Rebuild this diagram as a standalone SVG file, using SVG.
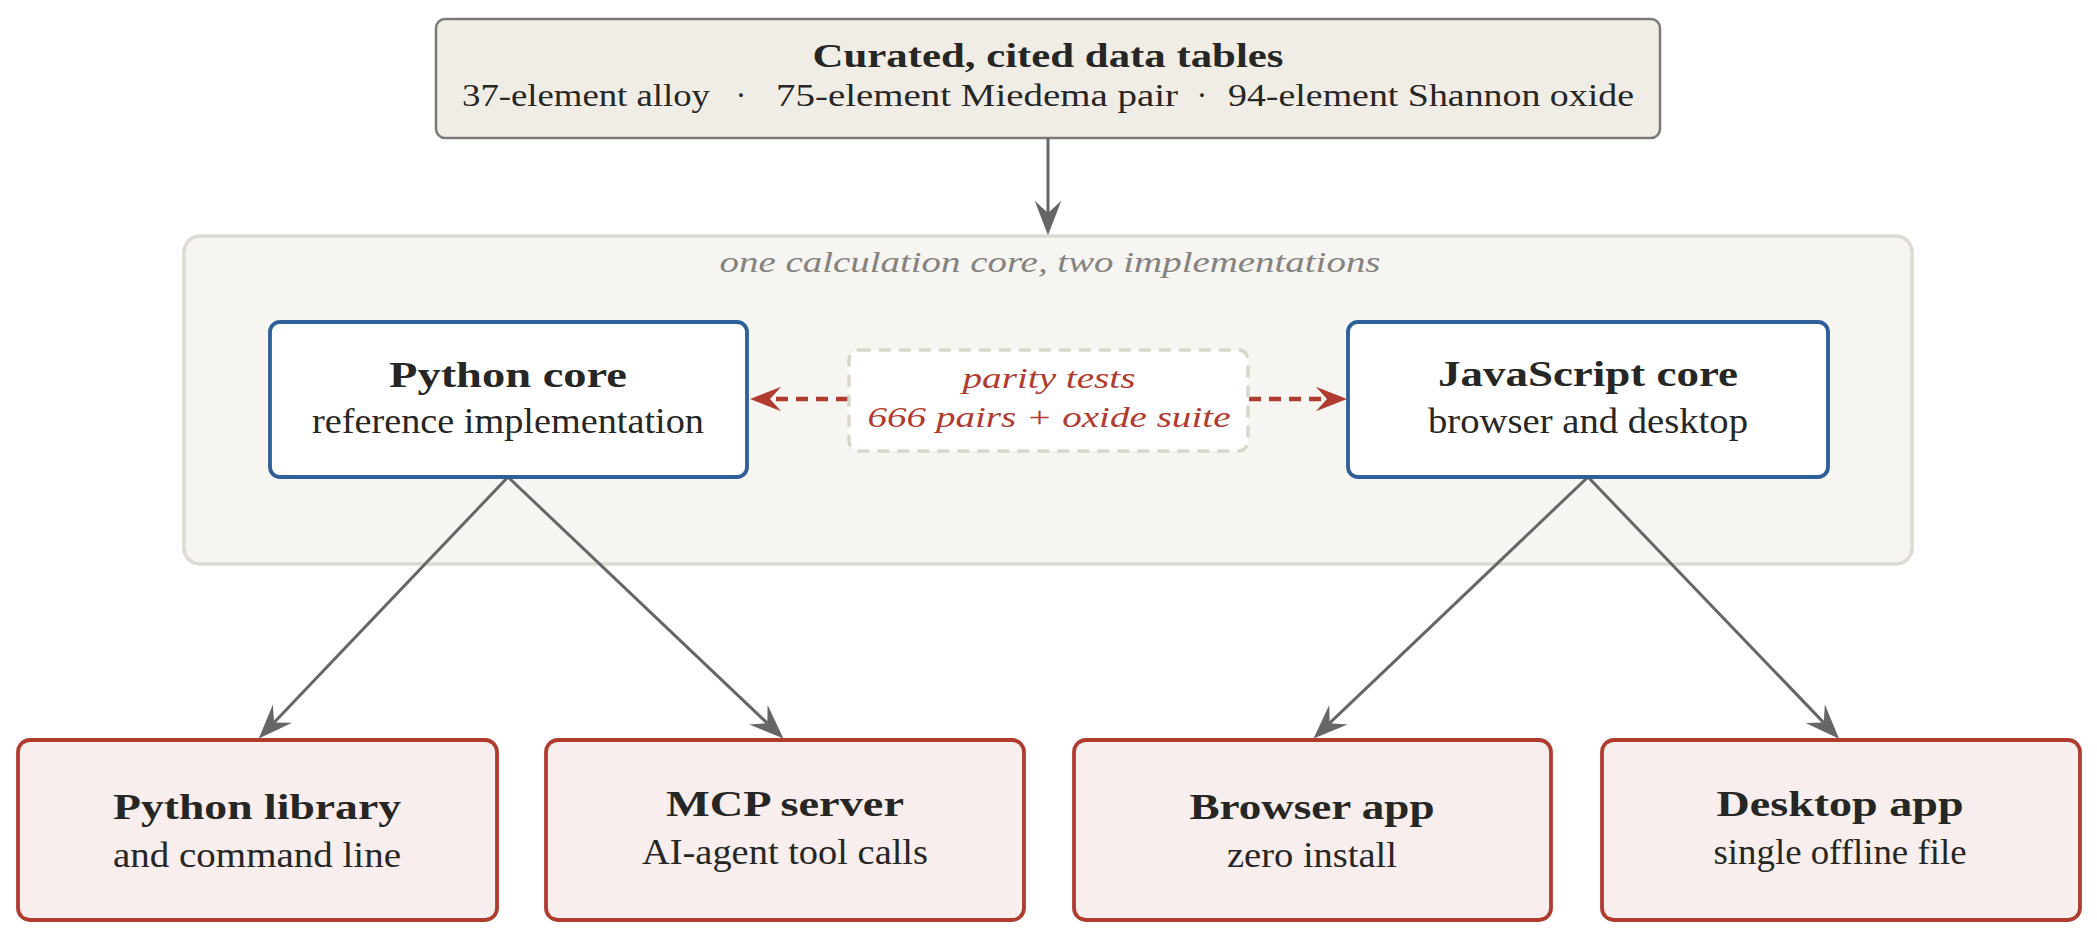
<svg xmlns="http://www.w3.org/2000/svg" width="2097" height="937" viewBox="0 0 2097 937">
<defs>
<style>
text{font-family:"Liberation Serif","Times New Roman",serif;text-anchor:middle;fill:#262624}
.t{font-weight:bold;font-size:35px}
.s{font-size:35px}
.src{fill:#f0ede6;stroke:#7b7a76;stroke-width:2.5}
.grp{fill:#f6f5f2;stroke:#dcdad1;stroke-width:3.5}
.core{fill:#ffffff;stroke:#2d5f99;stroke-width:3.8}
.out{fill:#f7eeed;stroke:#b03c30;stroke-width:3.8}
.par{fill:#ffffff;stroke:#d9d6cc;stroke-width:3.5;stroke-dasharray:12 8}
.ln{stroke:#666666;stroke-width:3;fill:none}
.dl{stroke:#b03c30;stroke-width:4.5;fill:none;stroke-dasharray:12 8}
.red{fill:#b03c30;font-style:italic;font-size:29px}
</style>
<marker id="ag" markerUnits="userSpaceOnUse" markerWidth="40" markerHeight="30" refX="0" refY="0" viewBox="-12 -13 36 26" orient="auto" overflow="visible">
<path d="M20,0 L-11,-12 L0,0 L-11,12 Z" fill="#666666"/>
</marker>
<marker id="ar" markerUnits="userSpaceOnUse" markerWidth="40" markerHeight="30" refX="0" refY="0" viewBox="-12 -13 36 26" orient="auto" overflow="visible">
<path d="M18,0 L-10,-11 L0,0 L-10,11 Z" fill="#b03c30"/>
</marker>
</defs>

<g id="calc-core-group">
<rect class="grp" x="184" y="236" width="1728" height="328" rx="16"/>
<text x="1050" y="272" font-style="italic" font-size="29" style="fill:#858380" textLength="661" lengthAdjust="spacingAndGlyphs">one calculation core, two implementations</text>
</g>

<g id="data-tables">
<rect class="src" x="436" y="19" width="1224" height="119" rx="9"/>
<text class="t" x="1048" y="67" style="font-size:33px" textLength="471" lengthAdjust="spacingAndGlyphs">Curated, cited data tables</text>
<text x="462" y="106" style="text-anchor:start;font-size:31px" textLength="248" lengthAdjust="spacingAndGlyphs">37-element alloy</text>
<text x="741" y="106" style="font-size:31px">·</text>
<text x="776" y="106" style="text-anchor:start;font-size:31px" textLength="402" lengthAdjust="spacingAndGlyphs">75-element Miedema pair</text>
<text x="1202" y="106" style="font-size:31px">·</text>
<text x="1228" y="106" style="text-anchor:start;font-size:31px" textLength="406" lengthAdjust="spacingAndGlyphs">94-element Shannon oxide</text>
</g>

<g id="connectors">
<line class="ln" x1="1048" y1="138" x2="1048" y2="213" marker-end="url(#ag)"/>
<line class="ln" x1="508" y1="477" x2="274.1" y2="722.5" marker-end="url(#ag)"/>
<line class="ln" x1="508" y1="477" x2="767.3" y2="723.2" marker-end="url(#ag)"/>
<line class="ln" x1="1588" y1="477" x2="1329.6" y2="723.2" marker-end="url(#ag)"/>
<line class="ln" x1="1588" y1="477" x2="1823.7" y2="722.6" marker-end="url(#ag)"/>
<line class="dl" x1="848" y1="399" x2="770" y2="399" marker-end="url(#ar)"/>
<line class="dl" x1="1249" y1="399" x2="1327" y2="399" marker-end="url(#ar)"/>
</g>

<g id="python-core">
<rect class="core" x="270" y="322" width="477" height="155" rx="10"/>
<text class="t" x="508" y="387" textLength="238" lengthAdjust="spacingAndGlyphs">Python core</text>
<text class="s" x="508" y="433" textLength="392" lengthAdjust="spacingAndGlyphs">reference implementation</text>
</g>

<g id="parity-tests">
<rect class="par" x="849" y="350" width="399" height="101" rx="10"/>
<text class="red" x="1049" y="388" textLength="173" lengthAdjust="spacingAndGlyphs">parity tests</text>
<text class="red" x="1049" y="427" textLength="363" lengthAdjust="spacingAndGlyphs">666 pairs + oxide suite</text>
</g>

<g id="javascript-core">
<rect class="core" x="1348" y="322" width="480" height="155" rx="10"/>
<text class="t" x="1588" y="386" textLength="300" lengthAdjust="spacingAndGlyphs">JavaScript core</text>
<text class="s" x="1588" y="433" textLength="320" lengthAdjust="spacingAndGlyphs">browser and desktop</text>
</g>

<g id="python-library">
<rect class="out" x="18" y="740" width="479" height="180" rx="12"/>
<text class="t" x="257" y="819" textLength="288" lengthAdjust="spacingAndGlyphs">Python library</text>
<text class="s" x="257" y="867" textLength="288" lengthAdjust="spacingAndGlyphs">and command line</text>
</g>

<g id="mcp-server">
<rect class="out" x="546" y="740" width="478" height="180" rx="12"/>
<text class="t" x="785" y="816" textLength="238" lengthAdjust="spacingAndGlyphs">MCP server</text>
<text class="s" x="785" y="864" textLength="286" lengthAdjust="spacingAndGlyphs">AI-agent tool calls</text>
</g>

<g id="browser-app">
<rect class="out" x="1074" y="740" width="477" height="180" rx="12"/>
<text class="t" x="1312" y="819" textLength="245" lengthAdjust="spacingAndGlyphs">Browser app</text>
<text class="s" x="1312" y="867" textLength="170" lengthAdjust="spacingAndGlyphs">zero install</text>
</g>

<g id="desktop-app">
<rect class="out" x="1602" y="740" width="478" height="180" rx="12"/>
<text class="t" x="1840" y="816" textLength="247" lengthAdjust="spacingAndGlyphs">Desktop app</text>
<text class="s" x="1840" y="864" textLength="253" lengthAdjust="spacingAndGlyphs">single offline file</text>
</g>
</svg>
